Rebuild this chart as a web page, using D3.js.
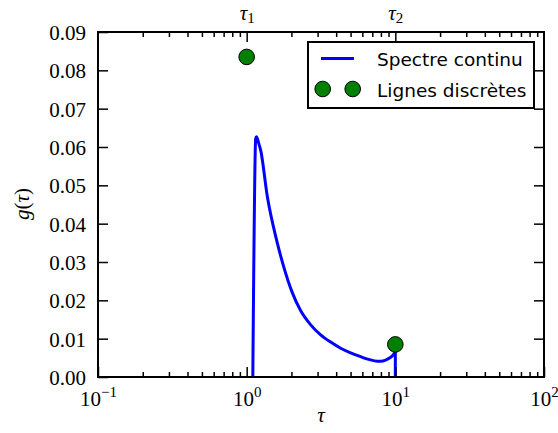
<!DOCTYPE html>
<html>
<head>
<meta charset="utf-8">
<script src="https://cdn.jsdelivr.net/npm/d3@7"></script>
<style>
  html, body { margin: 0; padding: 0; background: #fff; }
  svg { display: block; }
</style>
</head>
<body>
<svg id="chart" width="558" height="433"></svg>
<script>
// ---- data ----
const spectrumTau = [1.10, 1.15, 1.165, 1.20, 1.242, 1.378, 1.59, 1.774, 2.018, 2.30, 2.696, 3.146, 3.673, 4.288, 5.00, 5.845, 6.62, 7.57, 8.00, 8.60, 9.20, 9.70, 10.0];
const spectrumG   = [0.0000, 0.0622, 0.0627, 0.0612, 0.0592, 0.0470, 0.0357, 0.0288, 0.0222, 0.0174, 0.0136, 0.0110, 0.0091, 0.0075, 0.0063, 0.0053, 0.0046, 0.0041, 0.0041, 0.0044, 0.0050, 0.0058, 0.0066];
const dropTau = [10.0, 10.0];
const dropG   = [0.0066, 0.0000];
const lineTau = [1.0, 10.0];
const lineG   = [0.0835, 0.0085];
const yTicks  = [0.00, 0.01, 0.02, 0.03, 0.04, 0.05, 0.06, 0.07, 0.08, 0.09];
const xMajor  = [0.1, 1, 10, 100];
const xMajorExp = ["\u22121", "0", "1", "2"];
const xMinor  = [0.2,0.3,0.4,0.5,0.6,0.7,0.8,0.9, 2,3,4,5,6,7,8,9, 20,30,40,50,60,70,80,90];
const topTicks = [1, 10];
const topLabels = ["1", "2"];
const legendLabels = ["Spectre continu", "Lignes discr\u00e8tes"];

// ---- layout ----
const L = 98, R = 544, T = 32, B = 377;
const svg = d3.select("#chart");
const x = d3.scaleLog().domain([0.1, 100]).range([L, R]);
const y = d3.scaleLinear().domain([0, 0.09]).range([B, T]);
const SERIF = "Liberation Serif, Times New Roman, Tinos, DejaVu Serif, Noto Serif, serif";
const SANS = "DejaVu Sans, sans-serif";

// ---- curve ----
const spec = spectrumTau.map((t, i) => ({t, g: spectrumG[i]}));
const drop = dropTau.map((t, i) => ({t, g: dropG[i]}));
svg.append("path").datum(spec)
  .attr("d", d3.line().x(d => x(d.t)).y(d => y(d.g)).curve(d3.curveMonotoneX))
  .attr("fill", "none").attr("stroke", "#0000ff").attr("stroke-width", 3)
  .attr("stroke-linejoin", "round");
svg.append("path").datum(drop)
  .attr("d", d3.line().x(d => x(d.t)).y(d => y(d.g)))
  .attr("fill", "none").attr("stroke", "#0000ff").attr("stroke-width", 3);

// ---- axes ----
function styleAxis(g) {
  g.select(".domain").remove();
  g.attr("font-family", SERIF).attr("font-size", 21);
  g.selectAll(".tick line").attr("stroke", "#000").attr("stroke-width", 1.5);
}
// left
svg.append("g").attr("transform", `translate(${L},0)`)
  .call(d3.axisLeft(y).tickValues(yTicks).tickSize(-10).tickPadding(12).tickFormat(d3.format(".2f")))
  .call(styleAxis)
  .call(g => g.selectAll("text").style("font-family", SERIF).style("font-size", "21px").attr("fill", "#000").attr("dy", "0.35em"));
// right
svg.append("g").attr("transform", `translate(${R},0)`)
  .call(d3.axisRight(y).tickValues(yTicks.slice(1, -1)).tickSize(-10).tickFormat(""))
  .call(styleAxis);
// bottom major
const bottomAxis = svg.append("g").attr("transform", `translate(0,${B})`)
  .call(d3.axisBottom(x).tickValues(xMajor).tickSize(-10).tickFormat(""))
  .call(styleAxis);
bottomAxis.selectAll(".tick").append("text")
  .attr("y", 29).attr("text-anchor", "middle")
  .style("font-family", SERIF).style("font-size", "21px").attr("fill", "#000")
  .each(function(d, i) {
    const t = d3.select(this);
    t.append("tspan").text("10");
    t.append("tspan").attr("dy", -9).style("font-size", "15px").text(xMajorExp[i]);
  });
// bottom minor
svg.append("g").attr("transform", `translate(0,${B})`)
  .call(d3.axisBottom(x).tickValues(xMinor).tickSize(-5).tickFormat(""))
  .call(styleAxis);
// top major
const topAxis = svg.append("g").attr("transform", `translate(0,${T})`)
  .call(d3.axisTop(x).tickValues(topTicks).tickSize(-10).tickFormat(""))
  .call(styleAxis);
topAxis.selectAll(".tick").append("text")
  .attr("y", -12).attr("text-anchor", "middle")
  .style("font-family", SERIF).style("font-size", "21px").attr("fill", "#000")
  .each(function(d, i) {
    const t = d3.select(this);
    t.append("tspan").style("font-style", "italic").text("\u03c4");
    t.append("tspan").attr("dy", 3).style("font-size", "15px").text(topLabels[i]);
  });
// top minor
svg.append("g").attr("transform", `translate(0,${T})`)
  .call(d3.axisTop(x).tickValues(xMinor).tickSize(-5).tickFormat(""))
  .call(styleAxis);

// spines
svg.append("rect").attr("x", L).attr("y", T).attr("width", R - L).attr("height", B - T)
  .attr("fill", "none").attr("stroke", "#000").attr("stroke-width", 2);

// ---- discrete lines ----
svg.selectAll("circle.pt").data(lineTau.map((t, i) => ({t, g: lineG[i]})))
  .enter().append("circle").attr("class", "pt")
  .attr("cx", d => x(d.t)).attr("cy", d => y(d.g)).attr("r", 7.8)
  .attr("fill", "#008000").attr("stroke", "#000").attr("stroke-width", 1);

// ---- axis labels ----
svg.append("text").attr("x", (L + R) / 2).attr("y", 422).attr("text-anchor", "middle")
  .style("font-family", SERIF).style("font-size", "21px").style("font-style", "italic").text("\u03c4");
const yl = svg.append("text").attr("transform", "translate(29,204) rotate(-90)")
  .attr("text-anchor", "middle").style("font-family", SERIF).style("font-size", "21px");
yl.append("tspan").style("font-style", "italic").text("g");
yl.append("tspan").text("(");
yl.append("tspan").style("font-style", "italic").text("\u03c4");
yl.append("tspan").text(")");

// ---- legend ----
const lg = svg.append("g");
lg.append("rect").attr("x", 308).attr("y", 42).attr("width", 226).attr("height", 66)
  .attr("fill", "#fff").attr("stroke", "#000").attr("stroke-width", 2);
lg.append("line").attr("x1", 321).attr("x2", 354).attr("y1", 58.5).attr("y2", 58.5)
  .attr("stroke", "#0000ff").attr("stroke-width", 3);
[322.7, 352.7].forEach(cx => lg.append("circle").attr("cx", cx).attr("cy", 89).attr("r", 7.8)
  .attr("fill", "#008000").attr("stroke", "#000").attr("stroke-width", 1));
legendLabels.forEach((s, i) => lg.append("text").attr("x", 377).attr("y", 66.3 + i * 30.5)
  .style("font-family", SANS).style("font-size", "18.5px").attr("fill", "#000").text(s));
</script>
</body>
</html>
